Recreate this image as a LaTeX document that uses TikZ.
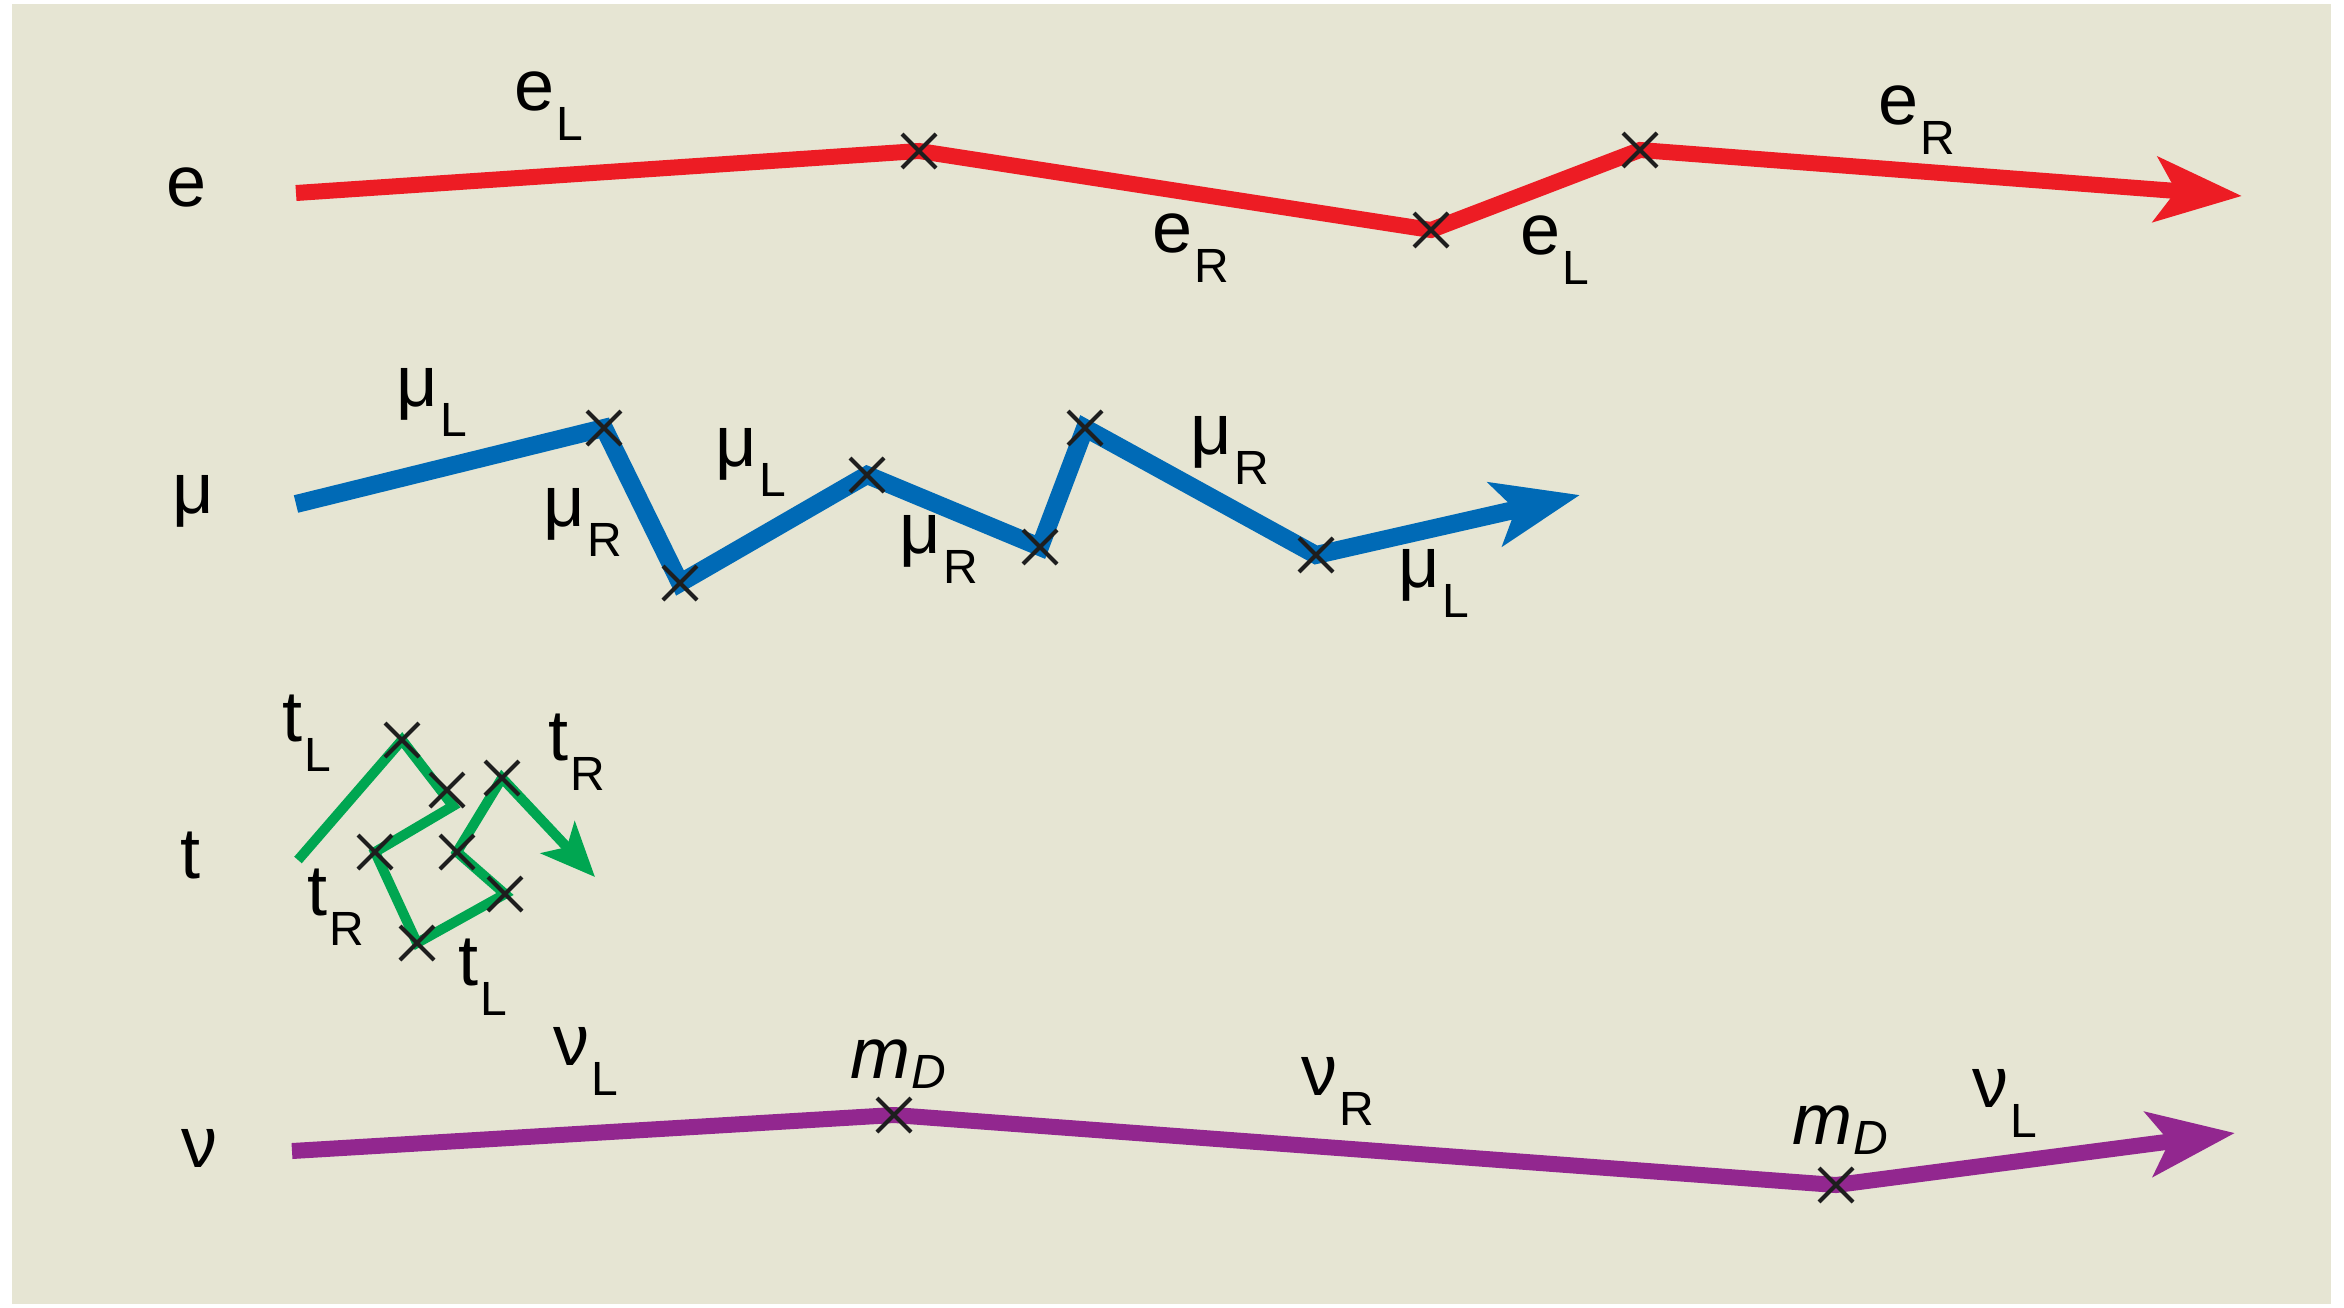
\documentclass[tikz,border=0pt]{standalone}
\usepackage{fontspec}
\setmainfont{Liberation Sans}
\usetikzlibrary{arrows.meta,shapes.misc}
\definecolor{bg}{RGB}{230,229,211}
\definecolor{ered}{RGB}{237,28,36}
\definecolor{mublue}{RGB}{0,106,182}
\definecolor{tgreen}{RGB}{0,166,81}
\definecolor{nupurple}{RGB}{146,39,143}
\definecolor{xmk}{RGB}{30,30,30}
\newcommand{\bigf}{\fontsize{72}{86}\selectfont}
\newcommand{\subf}{\fontsize{48}{58}\selectfont}
\newcommand{\lbl}[2]{{\bigf #1}\kern2pt\raisebox{-30pt}{\subf #2}}
\newcommand{\mdlbl}{{\bigf\itshape m}\kern1pt\raisebox{-10pt}{\subf\itshape D}}
\tikzset{
  vx/.style={cross out, draw=xmk, line width=4pt, minimum size=30pt, inner sep=0pt},
  lab/.style={inner sep=0pt, text=black},
  trk/.style={line width=#1, line join=miter},
  tipbig/.style={-{Stealth[length=86pt,width=64pt,inset=20pt]}},
  tipsmall/.style={-{Stealth[length=54pt,width=46pt,inset=13pt]}}
}
\begin{document}
\begin{tikzpicture}[x=1pt,y=-1pt]
\useasboundingbox (0,0) rectangle (2344,1307);
\fill[white] (0,0) rectangle (2344,1307);
\fill[bg] (12,4) rectangle (2331,1304);

% ---- e row ----
\node[lab] (le) at (187,187) {\bigf e};
\coordinate (e0) at (296,193);
\coordinate (e1) at (919,151);
\coordinate (e2) at (1431,230);
\coordinate (e3) at (1640,150);
\coordinate (e4) at (2242,196);
\draw[trk=16pt, ered, tipbig] (e0) -- (e1) -- (e2) -- (e3) -- (e4);
\node[vx] (xe1) at (e1) {};
\node[vx] (xe2) at (e2) {};
\node[vx] (xe3) at (e3) {};
\node[lab] (le1) at (549,106) {\lbl{e}{L}};
\node[lab] (le2) at (1191,248) {\lbl{e}{R}};
\node[lab] (le3) at (1555,250) {\lbl{e}{L}};
\node[lab] (le4) at (1917,120) {\lbl{e}{R}};

% ---- mu row ----
\node[lab] (lm) at (193,501) {\bigf μ};
\coordinate (m0) at (296,504);
\coordinate (m1) at (604,428);
\coordinate (m2) at (680,583);
\coordinate (m3) at (867,475);
\coordinate (m4) at (1040,547);
\coordinate (m5) at (1085,428);
\coordinate (m6) at (1316,555);
\coordinate (m7) at (1580,495);
\draw[trk=18pt, mublue, tipbig] (m0) -- (m1) -- (m2) -- (m3) -- (m4) -- (m5) -- (m6) -- (m7);
\foreach \i in {1,...,6} { \node[vx] (xm\i) at (m\i) {}; }
\node[lab] (lm1) at (432,402) {\lbl{μ}{L}};
\node[lab] (lm2) at (583,522) {\lbl{μ}{R}};
\node[lab] (lm3) at (751,462) {\lbl{μ}{L}};
\node[lab] (lm4) at (939,549) {\lbl{μ}{R}};
\node[lab] (lm5) at (1230,450) {\lbl{μ}{R}};
\node[lab] (lm6) at (1434,583) {\lbl{μ}{L}};

% ---- t row ----
\node[lab] (lt) at (190,855) {\bigf t};
\coordinate (t0) at (298,860);
\coordinate (t1) at (402,740);
\coordinate (t2) at (447,790);
\coordinate (tc) at (453,806);
\coordinate (t3) at (375,852);
\coordinate (t4) at (417,943);
\coordinate (t5) at (505,894);
\coordinate (t6) at (457,852);
\coordinate (t7) at (502,778);
\coordinate (t8) at (595,877);
\draw[trk=10pt, tgreen, tipsmall] (t0) -- (t1) -- (tc) -- (t3) -- (t4) -- (t5) -- (t6) -- (t7) -- (t8);
\foreach \i in {1,...,7} { \node[vx] (xt\i) at (t\i) {}; }
\node[lab] (lt1) at (307,733) {\lbl{t}{L}};
\node[lab] (lt2) at (577,752) {\lbl{t}{R}};
\node[lab] (lt3) at (336,907) {\lbl{t}{R}};
\node[lab] (lt4) at (483,977) {\lbl{t}{L}};

% ---- nu row ----
\node[lab] (ln) at (199,1148) {\bigf ν};
\coordinate (n0) at (292,1151);
\coordinate (n1) at (894,1115);
\coordinate (n2) at (1836,1185);
\coordinate (n3) at (2235,1133);
\draw[trk=16pt, nupurple, tipbig] (n0) -- (n1) -- (n2) -- (n3);
\node[vx] (xn1) at (n1) {};
\node[vx] (xn2) at (n2) {};
\node[lab] (ln1) at (586,1061) {\lbl{ν}{L}};
\node[lab] (lmd1) at (898,1064) {\mdlbl};
\node[lab] (ln2) at (1338,1091) {\lbl{ν}{R}};
\node[lab] (lmd2) at (1840,1130) {\mdlbl};
\node[lab] (ln3) at (2005,1103) {\lbl{ν}{L}};
\end{tikzpicture}
\end{document}
